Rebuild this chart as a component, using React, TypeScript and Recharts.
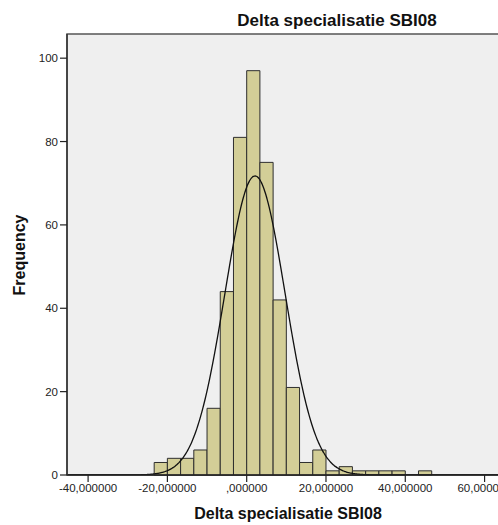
import React from 'react';
import {
  ComposedChart,
  Line,
  XAxis,
  YAxis,
  ReferenceArea,
} from 'recharts';

// Histogram of "Delta specialisatie SBI08": bins of width 10/3 starting at -70/3
const BIN_WIDTH = 10 / 3;
const FIRST_BIN_START = -70 / 3;
const binCounts = [3, 4, 4, 6, 16, 44, 81, 97, 75, 42, 21, 3, 6, 1, 2, 1, 1, 1, 1, 0, 1];

// Fitted normal curve parameters
const CURVE_MEAN = 2.1;
const CURVE_SD = 7.6;

const xTicks = [-40, -20, 0, 20, 40, 60];
const yTicks = [0, 20, 40, 60, 80, 100];
const X_DOMAIN: [number, number] = [-45.32, 69.69];
const Y_DOMAIN: [number, number] = [0, 105.8];

const TITLE = 'Delta specialisatie SBI08';
const X_LABEL = 'Delta specialisatie SBI08';
const Y_LABEL = 'Frequency';

const FONT = '"Liberation Sans", Arial, Helvetica, sans-serif';
const BAR_FILL = '#D3CE97';
const PLOT_BG = '#EFEFEF';

const bins = binCounts.map((count, i) => {
  const start = FIRST_BIN_START + i * BIN_WIDTH;
  return { start, end: start + BIN_WIDTH, count };
});

const totalCount = binCounts.reduce((a, b) => a + b, 0);

// Normal density scaled to frequency per bin
const curveData: { x: number; density: number }[] = [];
for (let x = X_DOMAIN[0]; x <= X_DOMAIN[1]; x += 0.25) {
  const z = (x - CURVE_MEAN) / CURVE_SD;
  const density =
    (totalCount * BIN_WIDTH) / (CURVE_SD * Math.sqrt(2 * Math.PI)) * Math.exp(-0.5 * z * z);
  curveData.push({ x, density });
}

const formatX = (v: number) => {
  const s = Math.abs(v).toFixed(6).replace('.', ',');
  const trimmed = s.startsWith('0,') ? s.slice(1) : s;
  return (v < 0 ? '-' : '') + trimmed;
};

const tickStyle = { fill: '#222', fontSize: 11.5, fontFamily: FONT };

export default function App() {
  return (
    <div
      style={{
        position: 'fixed',
        left: 0,
        top: 0,
        width: 498,
        height: 525,
        overflow: 'hidden',
        background: '#fff',
        fontFamily: FONT,
      }}
    >
      <ComposedChart
        width={540}
        height={525}
        data={curveData}
        margin={{ top: 34, right: 17, bottom: 0, left: 0 }}
      >
        <XAxis
          dataKey="x"
          type="number"
          domain={X_DOMAIN}
          ticks={xTicks}
          allowDataOverflow
          tickFormatter={formatX}
          tick={tickStyle}
          tickSize={7}
          tickMargin={2}
          height={50}
          axisLine={{ stroke: '#222', strokeWidth: 1.5 }}
          tickLine={{ stroke: '#222', strokeWidth: 1.2 }}
        />
        <YAxis
          type="number"
          domain={Y_DOMAIN}
          ticks={yTicks}
          allowDataOverflow
          tick={tickStyle}
          tickSize={7}
          tickMargin={2}
          width={67}
          axisLine={{ stroke: '#333', strokeWidth: 1.5 }}
          tickLine={{ stroke: '#222', strokeWidth: 1.2 }}
        />
        <ReferenceArea
          x1={X_DOMAIN[0]}
          x2={X_DOMAIN[1]}
          y1={Y_DOMAIN[0]}
          y2={Y_DOMAIN[1]}
          fill={PLOT_BG}
          fillOpacity={1}
          stroke="#555"
          strokeWidth={1.5}
          ifOverflow="visible"
        />
        {bins
          .filter((b) => b.count > 0)
          .map((b, i) => (
            <ReferenceArea
              key={i}
              x1={b.start}
              x2={b.end}
              y1={0}
              y2={b.count}
              fill={BAR_FILL}
              fillOpacity={1}
              stroke="#2e2e2e"
              strokeWidth={1}
              ifOverflow="visible"
            />
          ))}
        <Line
          dataKey="density"
          type="monotone"
          stroke="#111"
          strokeWidth={1.3}
          dot={false}
          activeDot={false}
          isAnimationActive={false}
        />
      </ComposedChart>

      <div
        style={{
          position: 'absolute',
          left: 337,
          top: 11,
          transform: 'translateX(-50%)',
          whiteSpace: 'nowrap',
          fontWeight: 'bold',
          fontSize: 17,
          lineHeight: '19px',
          color: '#111',
        }}
      >
        {TITLE}
      </div>
      <div
        style={{
          position: 'absolute',
          left: 288,
          top: 505,
          transform: 'translateX(-50%)',
          whiteSpace: 'nowrap',
          fontWeight: 'bold',
          fontSize: 16,
          lineHeight: '18px',
          color: '#111',
        }}
      >
        {X_LABEL}
      </div>
      <div
        style={{
          position: 'absolute',
          left: 20,
          top: 255,
          transform: 'translate(-50%, -50%) rotate(-90deg)',
          whiteSpace: 'nowrap',
          fontWeight: 'bold',
          fontSize: 16,
          lineHeight: '18px',
          color: '#111',
        }}
      >
        {Y_LABEL}
      </div>
    </div>
  );
}
